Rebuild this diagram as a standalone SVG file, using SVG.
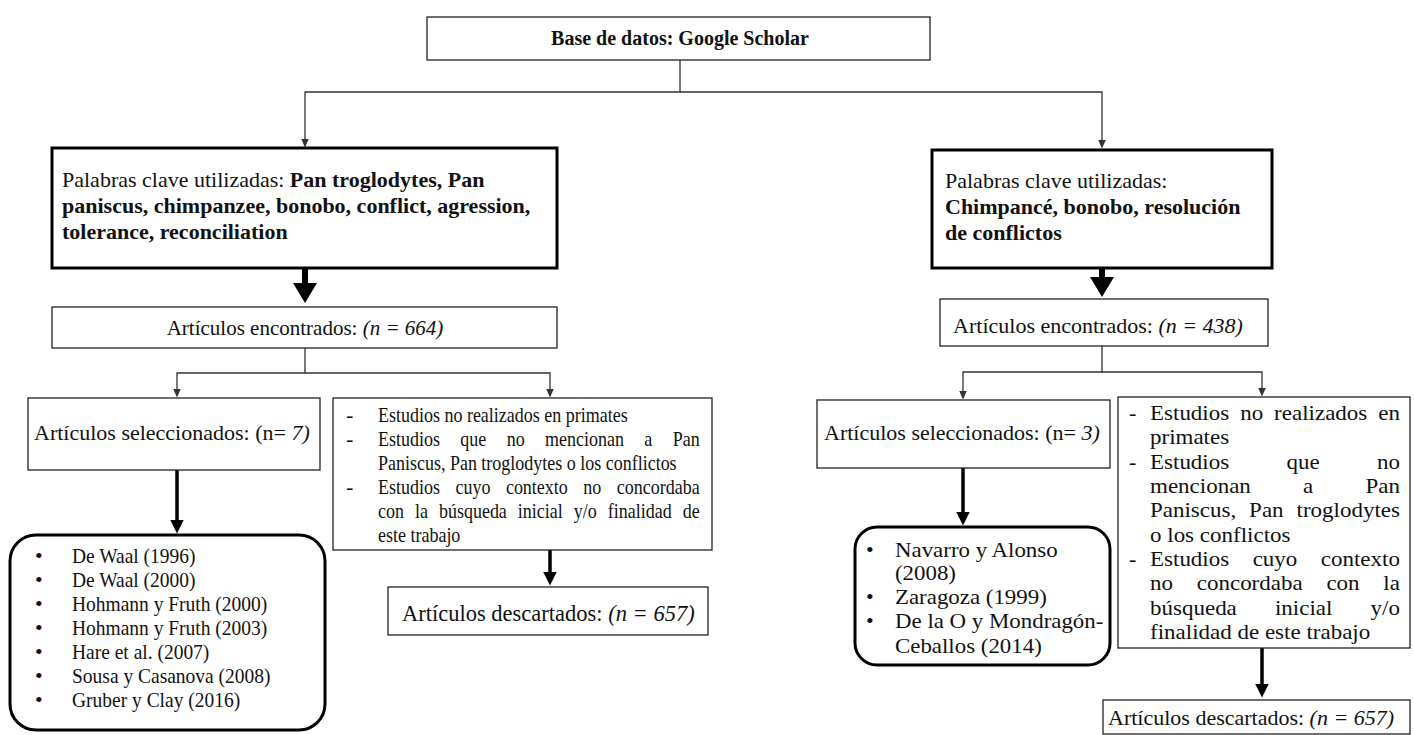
<svg xmlns="http://www.w3.org/2000/svg" width="1414" height="735" viewBox="0 0 1414 735">
<defs>
<style>
.box{fill:#fff;stroke:#222;stroke-width:1.3}
.heavy{fill:#fff;stroke:#000;stroke-width:3}
.t{font-family:"Liberation Serif","Times New Roman",serif;font-size:22px;fill:#111}
.s20{font-size:20px}
.s21{font-size:21px}
.s225{font-size:22.5px}
.b{font-weight:bold}
.i{font-style:italic}
.thin{fill:none;stroke:#333;stroke-width:1.3}
.med{fill:none;stroke:#000;stroke-width:3.5}
.big{fill:none;stroke:#000;stroke-width:6}
</style>
<marker id="mThin" viewBox="0 0 9 8" refX="0.5" refY="4" markerWidth="9" markerHeight="8" markerUnits="userSpaceOnUse" orient="auto"><path d="M0,0 L9,4 L0,8 z" fill="#333"/></marker>
<marker id="mMed" viewBox="0 0 14 14" refX="0.5" refY="7" markerWidth="14" markerHeight="14" markerUnits="userSpaceOnUse" orient="auto"><path d="M0,0 L14,7 L0,14 z" fill="#000"/></marker>
<marker id="mBig" viewBox="0 0 20 24" refX="1" refY="12" markerWidth="20" markerHeight="24" markerUnits="userSpaceOnUse" orient="auto"><path d="M0,0 L20,12 L0,24 z" fill="#000"/></marker>
</defs>
<rect width="1414" height="735" fill="#fff"/>

<g id="connectors">
<path class="thin" d="M680,60 V92 H305 V139" marker-end="url(#mThin)"/>
<path class="thin" d="M680,92 H1102 V140" marker-end="url(#mThin)"/>
<path class="big" d="M305,268 V284" marker-end="url(#mBig)"/>
<path class="big" d="M1102,268 V278" marker-end="url(#mBig)"/>
<path class="thin" d="M305,348 V373 H177 V389" marker-end="url(#mThin)"/>
<path class="thin" d="M305,373 H550 V389" marker-end="url(#mThin)"/>
<path class="thin" d="M1102,346 V372 H963 V391" marker-end="url(#mThin)"/>
<path class="thin" d="M1102,372 H1262 V388" marker-end="url(#mThin)"/>
<path class="med" d="M177,470 V520" marker-end="url(#mMed)"/>
<path class="med" d="M550,550 V572" marker-end="url(#mMed)"/>
<path class="med" d="M963,468 V512" marker-end="url(#mMed)"/>
<path class="med" d="M1262,648 V684" marker-end="url(#mMed)"/>
</g>

<g id="top">
<rect class="box" x="427" y="17" width="503" height="43"/>
<text class="t s20 b" x="680" y="45" text-anchor="middle">Base de datos: Google Scholar</text>
</g>

<g id="keywords-left">
<rect class="heavy" x="52" y="148" width="505" height="120"/>
<text class="t" x="62" y="187">Palabras clave utilizadas: <tspan class="b">Pan troglodytes, Pan</tspan></text>
<text class="t b" x="62" y="213">paniscus, chimpanzee, bonobo, conflict, agression,</text>
<text class="t b" x="62" y="239">tolerance, reconciliation</text>
</g>

<g id="keywords-right">
<rect class="heavy" x="932" y="150" width="340" height="118"/>
<text class="t" x="945" y="188">Palabras clave utilizadas:</text>
<text class="t b" x="945" y="214">Chimpancé, bonobo, resolución</text>
<text class="t b" x="945" y="240">de conflictos</text>
</g>

<g id="found-left">
<rect class="box" x="52" y="307" width="505" height="41"/>
<text class="t s21" x="305" y="335" text-anchor="middle">Artículos encontrados: <tspan class="i">(n = 664)</tspan></text>
</g>

<g id="found-right">
<rect class="box" x="940" y="299" width="328" height="47"/>
<text class="t" x="1098" y="333" text-anchor="middle">Artículos encontrados: <tspan class="i">(n = 438)</tspan></text>
</g>

<g id="selected-left">
<rect class="box" x="28" y="398" width="292" height="72"/>
<text class="t" x="34" y="440">Artículos seleccionados: (n= <tspan class="i">7)</tspan></text>
</g>

<g id="excluded-criteria-left">
<rect class="box" x="333" y="398" width="379" height="152"/>
<text class="t" x="346" y="422">-</text>
<text class="t" x="346" y="446">-</text>
<text class="t" x="346" y="494">-</text>
<g transform="translate(378,0) scale(0.818,1)">
<text class="t" x="0" y="422">Estudios no realizados en primates</text>
<text class="t" x="0" y="446" style="word-spacing:19.45px">Estudios que no mencionan a Pan</text>
<text class="t" x="0" y="470">Paniscus, Pan troglodytes o los conflictos</text>
<text class="t" x="0" y="494" style="word-spacing:13.47px">Estudios cuyo contexto no concordaba</text>
<text class="t" x="0" y="518" style="word-spacing:7.96px">con la búsqueda inicial y/o finalidad de</text>
<text class="t" x="0" y="542">este trabajo</text>
</g>
</g>

<g id="discarded-left">
<rect class="box" x="388" y="587" width="320" height="48"/>
<text class="t s225" x="402" y="621">Artículos descartados: <tspan class="i">(n = 657)</tspan></text>
</g>

<g id="list-left">
<rect class="heavy" x="10" y="535" width="315" height="195" rx="26" ry="26"/>
<text class="t" x="35" y="563">•</text>
<text class="t" x="35" y="587">•</text>
<text class="t" x="35" y="611">•</text>
<text class="t" x="35" y="635">•</text>
<text class="t" x="35" y="659">•</text>
<text class="t" x="35" y="683">•</text>
<text class="t" x="35" y="707">•</text>
<g transform="translate(72,0) scale(0.886,1)">
<text class="t" x="0" y="563">De Waal (1996)</text>
<text class="t" x="0" y="587">De Waal (2000)</text>
<text class="t" x="0" y="611">Hohmann y Fruth (2000)</text>
<text class="t" x="0" y="635">Hohmann y Fruth (2003)</text>
<text class="t" x="0" y="659">Hare et al. (2007)</text>
<text class="t" x="0" y="683">Sousa y Casanova (2008)</text>
<text class="t" x="0" y="707">Gruber y Clay (2016)</text>
</g>
</g>

<g id="selected-right">
<rect class="box" x="817" y="400" width="293" height="68"/>
<text class="t" x="824" y="440">Artículos seleccionados: (n= <tspan class="i">3)</tspan></text>
</g>

<g id="list-right">
<rect class="heavy" x="855" y="527" width="255" height="138" rx="22" ry="22"/>
<text class="t" x="866" y="557">•</text>
<text class="t" x="866" y="604">•</text>
<text class="t" x="866" y="628">•</text>
<g transform="translate(895,0) scale(1.04,1)">
<text class="t" x="0" y="557">Navarro y Alonso</text>
<text class="t" x="0" y="580">(2008)</text>
<text class="t" x="0" y="604">Zaragoza (1999)</text>
<text class="t" x="0" y="628">De la O y Mondragón-</text>
<text class="t" x="0" y="653">Ceballos (2014)</text>
</g>
</g>

<g id="excluded-criteria-right">
<rect class="box" x="1118" y="397" width="292" height="251"/>
<text class="t" x="1129" y="420">-</text>
<text class="t" x="1129" y="469">-</text>
<text class="t" x="1129" y="566">-</text>
<g transform="translate(1150,0) scale(1.045,1)">
<text class="t" x="0" y="420" style="word-spacing:4.98px">Estudios no realizados en</text>
<text class="t" x="0" y="444">primates</text>
<text class="t" x="0" y="469" style="word-spacing:49.32px">Estudios que no</text>
<text class="t" x="0" y="493" style="word-spacing:44.45px">mencionan a Pan</text>
<text class="t" x="0" y="517" style="word-spacing:6.85px">Paniscus, Pan troglodytes</text>
<text class="t" x="0" y="542">o los conflictos</text>
<text class="t" x="0" y="566" style="word-spacing:16.93px">Estudios cuyo contexto</text>
<text class="t" x="0" y="590" style="word-spacing:17.22px">no concordaba con la</text>
<text class="t" x="0" y="615" style="word-spacing:31px">búsqueda inicial y/o</text>
<text class="t" x="0" y="639">finalidad de este trabajo</text>
</g>
</g>

<g id="discarded-right">
<rect class="box" x="1103" y="700" width="307" height="34"/>
<text class="t" x="1108" y="725">Artículos descartados: <tspan class="i">(n = 657)</tspan></text>
</g>
</svg>
